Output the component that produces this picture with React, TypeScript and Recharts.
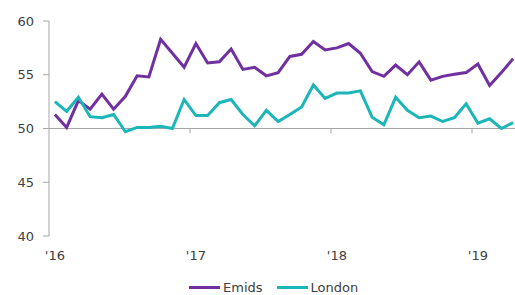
import { LineChart, Line, XAxis, YAxis, ReferenceLine } from 'recharts'

// monthly readings, Jan 2016 .. Apr 2019
const emids = [
  51.3, 50.1, 52.6, 51.8, 53.2, 51.8, 53.0, 54.9, 54.8, 58.3, 57.0, 55.7,
  57.9, 56.1, 56.2, 57.4, 55.5, 55.7, 54.9, 55.2, 56.7, 56.9, 58.1, 57.3,
  57.5, 57.9, 57.0, 55.3, 54.85, 55.9, 55.0, 56.2, 54.5, 54.85, 55.05, 55.2,
  56.0, 54.0, 55.2, 56.5
]
const london = [
  52.5, 51.6, 52.9, 51.1, 51.0, 51.3, 49.7, 50.1, 50.1, 50.2, 50.0, 52.7,
  51.2, 51.2, 52.4, 52.7, 51.3, 50.25, 51.7, 50.65, 51.3, 52.0, 54.05, 52.8,
  53.3, 53.3, 53.5, 51.05, 50.35, 52.9, 51.7, 51.0, 51.15, 50.65, 51.0, 52.3,
  50.5, 50.9, 50.0, 50.55
]
const yearTicks = [0, 12, 24, 36]
const yearLabels = ["'16", "'17", "'18", "'19"]
const yTicks = [40, 45, 50, 55, 60]
const yearBoundaries = [11.5, 23.5, 35.5]

const series = [
  { key: 'emids', name: 'Emids', color: '#7030A0' },
  { key: 'london', name: 'London', color: '#1CB5B8' }
]

const data = emids.map((v, i) => ({ idx: i, emids: v, london: london[i] }))

const font = '"DejaVu Sans", Verdana, sans-serif'
const axisGray = '#A6A6A6'
const textColor = '#404040'

export default function App() {
  return (
    <div style={{ position: 'absolute', left: 0, top: 0, width: 515, height: 295, overflow: 'hidden', background: '#fff', fontFamily: font }}>
      <LineChart width={519} height={295} data={data} margin={{ top: 21, right: 0, bottom: 0, left: 0 }}>
        <XAxis
          dataKey="idx"
          type="number"
          domain={[-0.5, 39.5]}
          ticks={yearTicks}
          tickFormatter={(v: number) => yearLabels[yearTicks.indexOf(v)]}
          axisLine={false}
          tickLine={false}
          tickSize={0}
          tickMargin={15}
          height={59}
          tick={{ fontSize: 13, fill: textColor, fontFamily: font }}
        />
        <YAxis
          domain={[40, 60]}
          ticks={yTicks}
          width={49}
          axisLine={{ stroke: axisGray }}
          tickLine={{ stroke: axisGray }}
          tickSize={6}
          tickMargin={9}
          tick={{ fontSize: 13, fill: textColor, fontFamily: font }}
        />
        <ReferenceLine y={50} stroke={axisGray} strokeWidth={1} />
        {yearBoundaries.map(b => (
          <ReferenceLine
            key={b}
            segment={[{ x: b, y: 50 }, { x: b, y: 49.55 }]}
            stroke={axisGray}
          />
        ))}
        {series.map(s => (
          <Line
            key={s.key}
            type="linear"
            dataKey={s.key}
            name={s.name}
            stroke={s.color}
            strokeWidth={3}
            dot={false}
            isAnimationActive={false}
          />
        ))}
      </LineChart>
      {/* legend */}
      <div style={{ position: 'absolute', left: 189, top: 280, display: 'flex', alignItems: 'center', fontSize: 13, color: textColor }}>
        {series.map((s, i) => (
          <div key={s.key} style={{ display: 'flex', alignItems: 'center', marginLeft: i === 0 ? 0 : 14 }}>
            <div style={{ width: 31, height: 3, background: s.color, marginRight: 3 }} />
            <span>{s.name}</span>
          </div>
        ))}
      </div>
    </div>
  )
}
